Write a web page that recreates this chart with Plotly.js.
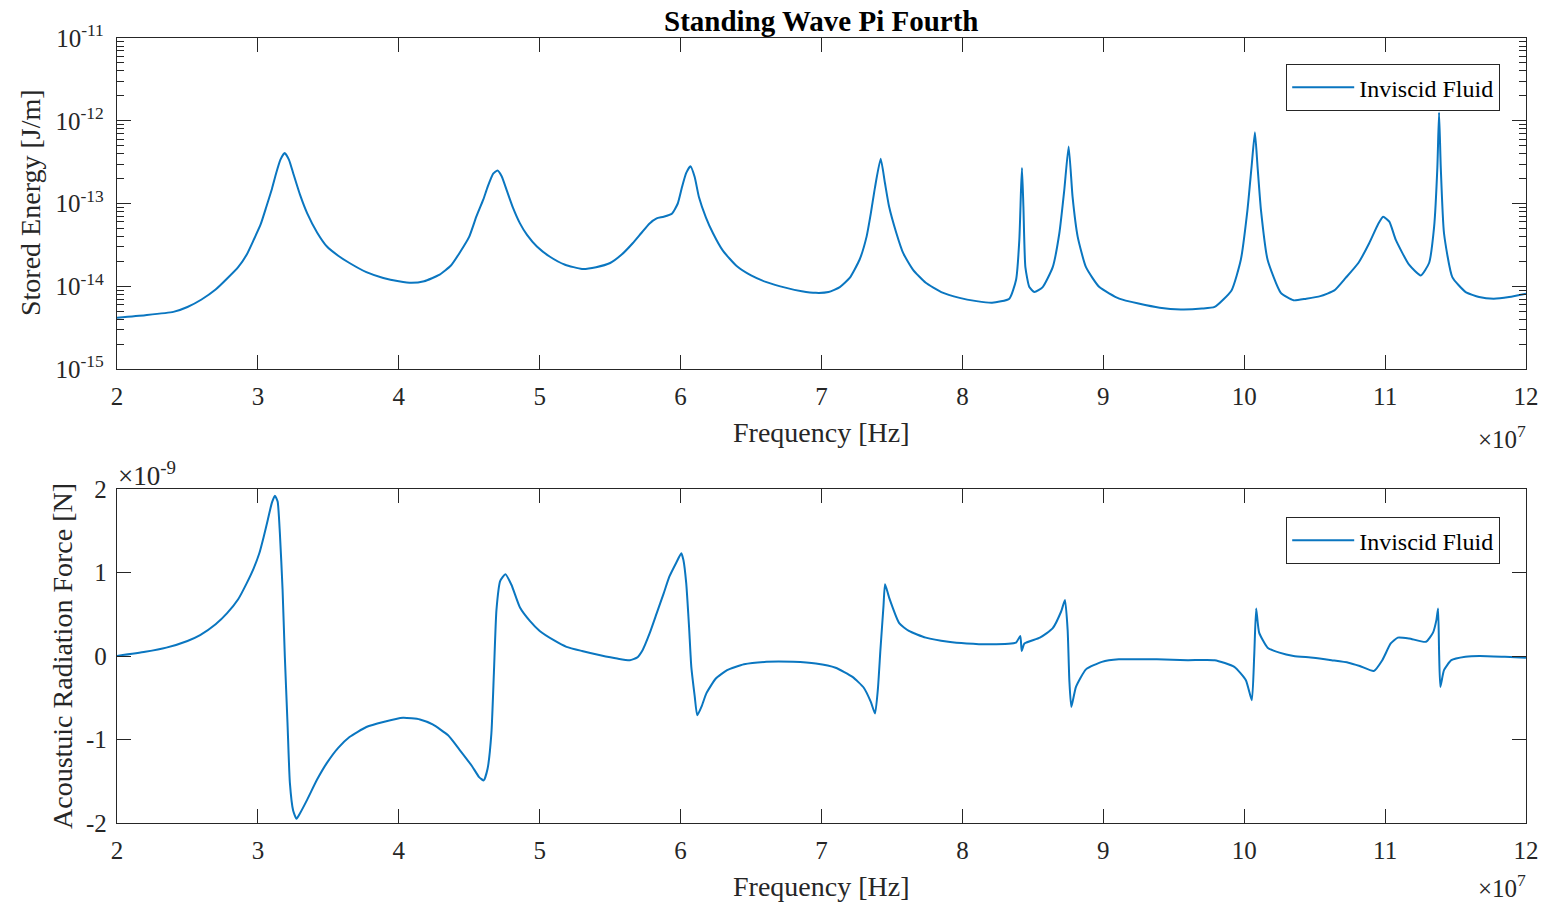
<!DOCTYPE html>
<html>
<head>
<meta charset="utf-8">
<script src="https://cdn.plot.ly/plotly-3.0.1.min.js"></script>
<style>
  html, body { margin: 0; padding: 0; background: #ffffff; }
  #chart { width: 1545px; height: 904px; }
</style>
</head>
<body>
<div id="chart"></div>
<script>
// Frequency in units of 1e7 Hz
const freqTop = [2.00,2.20,2.40,2.50,2.60,2.70,2.78,2.86,2.92,2.97,3.02,3.06,3.10,3.13,3.16,3.19,3.22,3.25,3.30,3.35,3.42,3.49,3.57,3.65,3.77,3.89,4.00,4.09,4.18,4.29,4.37,4.43,4.50,4.55,4.60,4.63,4.67,4.70,4.73,4.77,4.81,4.86,4.91,4.98,5.07,5.18,5.30,5.40,5.50,5.58,5.66,5.72,5.78,5.83,5.88,5.94,5.98,6.01,6.04,6.07,6.10,6.13,6.18,6.23,6.30,6.40,6.50,6.61,6.75,6.86,6.96,7.05,7.13,7.20,7.27,7.32,7.35,7.38,7.42,7.45,7.48,7.53,7.58,7.65,7.74,7.85,7.98,8.10,8.21,8.333,8.381,8.404,8.416,8.423,8.433,8.447,8.475,8.511,8.570,8.641,8.688,8.723,8.754,8.782,8.818,8.877,8.972,9.113,9.25,9.40,9.55,9.70,9.79,9.91,9.976,10.023,10.052,10.076,10.095,10.119,10.166,10.26,10.35,10.44,10.54,10.64,10.72,10.81,10.887,10.95,10.986,11.03,11.076,11.170,11.253,11.312,11.348,11.371,11.383,11.395,11.418,11.477,11.572,11.667,11.77,11.88,12.00];
// Stored energy [J/m]
const energyTop = [4.17e-15,4.47e-15,4.90e-15,5.62e-15,6.92e-15,9.12e-15,1.23e-14,1.70e-14,2.40e-14,3.63e-14,5.62e-14,9.12e-14,1.51e-13,2.34e-13,3.39e-13,4.07e-13,3.39e-13,2.34e-13,1.26e-13,7.59e-14,4.47e-14,3.02e-14,2.34e-14,1.91e-14,1.48e-14,1.26e-14,1.15e-14,1.10e-14,1.15e-14,1.38e-14,1.78e-14,2.51e-14,3.98e-14,6.92e-14,1.12e-13,1.58e-13,2.29e-13,2.51e-13,2.14e-13,1.38e-13,8.91e-14,5.75e-14,4.17e-14,3.02e-14,2.29e-14,1.82e-14,1.62e-14,1.70e-14,1.91e-14,2.40e-14,3.31e-14,4.37e-14,5.75e-14,6.61e-14,6.92e-14,7.59e-14,1.00e-13,1.58e-13,2.34e-13,2.82e-13,2.09e-13,1.20e-13,6.76e-14,4.37e-14,2.69e-14,1.74e-14,1.35e-14,1.12e-14,9.55e-15,8.71e-15,8.32e-15,8.51e-15,9.77e-15,1.26e-14,2.09e-14,3.98e-14,7.59e-14,1.58e-13,3.47e-13,1.78e-13,9.12e-14,4.47e-14,2.51e-14,1.58e-14,1.10e-14,8.51e-15,7.24e-15,6.61e-15,6.31e-15,7.08e-15,1.20e-14,3.63e-14,1.45e-13,2.69e-13,9.12e-14,1.70e-14,9.77e-15,8.51e-15,9.77e-15,1.70e-14,4.37e-14,1.45e-13,4.90e-13,1.20e-13,3.98e-14,1.70e-14,9.77e-15,7.08e-15,6.17e-15,5.50e-15,5.25e-15,5.37e-15,5.62e-15,8.91e-15,2.09e-14,8.32e-14,2.75e-13,7.24e-13,2.75e-13,8.32e-14,2.09e-14,8.32e-15,6.76e-15,7.08e-15,7.59e-15,8.91e-15,1.26e-14,1.91e-14,3.31e-14,5.62e-14,6.92e-14,6.03e-14,3.63e-14,1.82e-14,1.35e-14,1.91e-14,5.25e-14,2.75e-13,1.26e-12,2.75e-13,4.37e-14,1.29e-14,8.51e-15,7.41e-15,7.08e-15,7.41e-15,8.13e-15];

// Frequency in units of 1e7 Hz
const freqBottom = [2.00,2.20,2.35,2.50,2.59,2.70,2.78,2.86,2.92,2.97,3.01,3.04,3.07,3.10,3.121,3.14,3.156,3.175,3.191,3.21,3.227,3.25,3.274,3.30,3.35,3.42,3.49,3.57,3.65,3.77,3.89,4.03,4.15,4.24,4.35,4.43,4.52,4.57,4.603,4.63,4.657,4.675,4.693,4.72,4.757,4.80,4.86,4.93,5.00,5.10,5.19,5.30,5.43,5.55,5.64,5.69,5.73,5.78,5.83,5.88,5.92,5.97,6.005,6.02,6.04,6.06,6.076,6.10,6.118,6.15,6.182,6.25,6.33,6.45,6.61,6.80,6.96,7.10,7.22,7.30,7.35,7.380,7.40,7.418,7.44,7.451,7.48,7.553,7.62,7.74,7.90,8.03,8.20,8.38,8.411,8.421,8.44,8.55,8.64,8.700,8.728,8.747,8.759,8.773,8.806,8.877,8.99,9.11,9.38,9.60,9.79,9.93,10.012,10.054,10.071,10.085,10.106,10.166,10.25,10.35,10.49,10.62,10.74,10.82,10.92,10.98,11.04,11.09,11.17,11.29,11.340,11.364,11.376,11.383,11.392,11.418,11.47,11.57,11.67,11.85,12.00];
// Acoustic radiation force in units of 1e-9 N
const forceBottom = [0.00,0.05,0.10,0.18,0.25,0.38,0.51,0.68,0.87,1.05,1.23,1.42,1.63,1.84,1.92,1.85,1.47,0.80,0.00,-0.80,-1.52,-1.85,-1.95,-1.88,-1.72,-1.48,-1.28,-1.10,-0.97,-0.85,-0.79,-0.74,-0.76,-0.82,-0.95,-1.12,-1.32,-1.45,-1.49,-1.35,-0.93,-0.20,0.55,0.90,0.98,0.85,0.58,0.42,0.30,0.19,0.11,0.06,0.01,-0.03,-0.05,-0.02,0.07,0.27,0.51,0.75,0.95,1.12,1.23,1.15,0.87,0.35,-0.13,-0.48,-0.71,-0.60,-0.45,-0.27,-0.17,-0.10,-0.07,-0.07,-0.09,-0.14,-0.25,-0.38,-0.55,-0.69,-0.40,0.07,0.60,0.86,0.70,0.39,0.30,0.22,0.17,0.15,0.14,0.16,0.24,0.06,0.15,0.22,0.33,0.53,0.67,0.31,-0.29,-0.61,-0.37,-0.16,-0.07,-0.04,-0.04,-0.05,-0.05,-0.13,-0.29,-0.53,0.00,0.57,0.28,0.10,0.04,0.00,-0.02,-0.05,-0.08,-0.12,-0.18,-0.05,0.15,0.22,0.21,0.17,0.28,0.43,0.57,0.07,-0.37,-0.17,-0.05,-0.01,0.00,-0.01,-0.02];

const xTickVals = [2,3,4,5,6,7,8,9,10,11,12];
const xTickText = ['2','3','4','5','6','7','8','9','10','11','12'];
const yTopTickVals = [1e-15,1e-14,1e-13,1e-12,1e-11];
const yTopTickText = ['10<sup>-15</sup>','10<sup>-14</sup>','10<sup>-13</sup>','10<sup>-12</sup>','10<sup>-11</sup>'];
const yBotTickVals = [-2,-1,0,1,2];
const yBotTickText = ['-2','-1','0','1','2'];
const seriesName = 'Inviscid Fluid';

const W = 1545, H = 904;
const lineColor = '#0a76c0';
const axColor = '#262626';
const fontFam = '"Liberation Serif", "Times New Roman", serif';
const px = v => v / W;
const py = v => 1 - v / H;

const xDom = [px(117), px(1526)];
const axisCommon = {
  showline: true, linecolor: axColor, linewidth: 1.3, mirror: 'ticks',
  ticks: 'inside', ticklen: 14, tickwidth: 1.3, tickcolor: axColor,
  showgrid: false, zeroline: false, automargin: false,
  tickfont: {family: fontFam, size: 25, color: axColor}
};

const traces = [
  {x: freqTop, y: energyTop, type: 'scatter', mode: 'lines', name: seriesName,
   line: {color: lineColor, width: 2, shape: 'spline', smoothing: 0.5}, xaxis: 'x', yaxis: 'y', legend: 'legend'},
  {x: freqBottom, y: forceBottom, type: 'scatter', mode: 'lines', name: seriesName,
   line: {color: lineColor, width: 2, shape: 'spline', smoothing: 0.5}, xaxis: 'x2', yaxis: 'y2', legend: 'legend2'}
];

const legendCommon = {
  bgcolor: '#ffffff', bordercolor: axColor, borderwidth: 1.2,
  font: {family: fontFam, size: 24, color: '#000000'},
  xanchor: 'right', yanchor: 'top', itemwidth: 62
};

const layout = {
  width: W, height: H,
  margin: {l: 0, r: 0, t: 0, b: 0},
  paper_bgcolor: '#ffffff', plot_bgcolor: '#ffffff',
  showlegend: true,
  legend: Object.assign({x: px(1500), y: py(64)}, legendCommon),
  legend2: Object.assign({x: px(1500), y: py(517)}, legendCommon),
  xaxis: Object.assign({}, axisCommon, {domain: xDom, anchor: 'y', range: [2, 12],
    tickmode: 'array', tickvals: xTickVals, ticktext: xTickText, ticklabelstandoff: 5}),
  yaxis: Object.assign({}, axisCommon, {domain: [py(369), py(38)], anchor: 'x', type: 'log',
    range: [-15, -11], tickmode: 'array', tickvals: yTopTickVals, ticktext: yTopTickText, ticklabelstandoff: 7,
    minor: {ticks: 'inside', ticklen: 7, tickwidth: 1.1, tickcolor: axColor, dtick: 'D1', showgrid: false}}),
  xaxis2: Object.assign({}, axisCommon, {domain: xDom, anchor: 'y2', range: [2, 12],
    tickmode: 'array', tickvals: xTickVals, ticktext: xTickText, ticklabelstandoff: 5}),
  yaxis2: Object.assign({}, axisCommon, {domain: [py(823), py(489)], anchor: 'x2',
    range: [-2, 2], tickmode: 'array', tickvals: yBotTickVals, ticktext: yBotTickText, ticklabelstandoff: 4}),
  annotations: [
    {text: '<b>Standing Wave Pi Fourth</b>', xref: 'paper', yref: 'paper', x: px(821), y: py(21),
     xanchor: 'center', yanchor: 'middle', showarrow: false, font: {family: fontFam, size: 29, color: '#000'}},
    {text: 'Frequency [Hz]', xref: 'paper', yref: 'paper', x: px(821), y: py(432),
     xanchor: 'center', yanchor: 'middle', showarrow: false, font: {family: fontFam, size: 28, color: axColor}},
    {text: 'Frequency [Hz]', xref: 'paper', yref: 'paper', x: px(821), y: py(886),
     xanchor: 'center', yanchor: 'middle', showarrow: false, font: {family: fontFam, size: 28, color: axColor}},
    {text: 'Stored Energy [J/m]', xref: 'paper', yref: 'paper', x: px(30), y: py(203),
     xanchor: 'center', yanchor: 'middle', textangle: -90, showarrow: false, font: {family: fontFam, size: 28, color: axColor}},
    {text: 'Acoustuic Radiation Force [N]', xref: 'paper', yref: 'paper', x: px(62), y: py(656),
     xanchor: 'center', yanchor: 'middle', textangle: -90, showarrow: false, font: {family: fontFam, size: 28, color: axColor}},
    {text: '×10<sup>7</sup>', xref: 'paper', yref: 'paper', x: px(1528), y: py(437),
     xanchor: 'right', yanchor: 'middle', showarrow: false, font: {family: fontFam, size: 25, color: axColor}},
    {text: '×10<sup>7</sup>', xref: 'paper', yref: 'paper', x: px(1528), y: py(886),
     xanchor: 'right', yanchor: 'middle', showarrow: false, font: {family: fontFam, size: 25, color: axColor}},
    {text: '×10<sup>-9</sup>', xref: 'paper', yref: 'paper', x: px(116), y: py(474),
     xanchor: 'left', yanchor: 'middle', showarrow: false, font: {family: fontFam, size: 27, color: axColor}}
  ]
};

Plotly.newPlot('chart', traces, layout, {displayModeBar: false, responsive: false});
</script>
</body>
</html>
